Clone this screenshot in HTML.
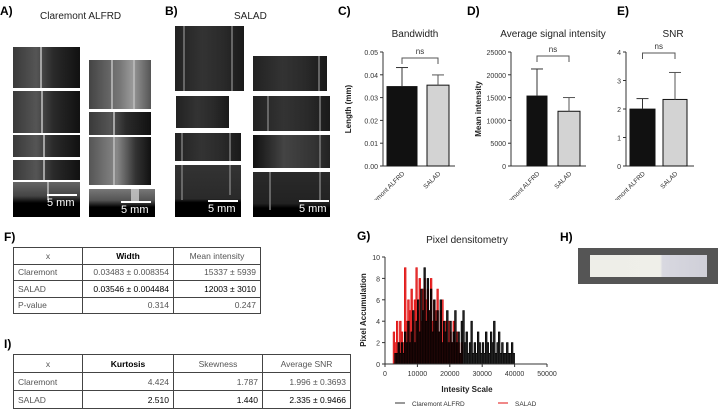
<!DOCTYPE html>
<html><head><meta charset="utf-8"><style>
body{margin:0;width:718px;height:407px;background:#fff;position:relative;overflow:hidden;font-family:"Liberation Sans",sans-serif;color:#222}
.abs{position:absolute}
.lbl{position:absolute;font-weight:bold;font-size:12px;color:#000}
.tile{position:absolute;background:linear-gradient(90deg,#3a3a3a 0%,#555 35%,#2a2a2a 60%,#111 100%);overflow:hidden}
.tile i{position:absolute;top:0;bottom:0;width:2px;background:#bbb;opacity:.8}
.tile.b{background:linear-gradient(90deg,#222 0%,#333 40%,#2a2a2a 70%,#1a1a1a 100%)}
.tile.b i{background:#777}
.sb{position:absolute;color:#fff;font-size:11px}
.sb b{display:block;height:2px;background:#fff;margin-bottom:1px}
table{position:absolute;border-collapse:collapse;font-size:8.5px;color:#555}
td{border:1px solid #444;padding:0 4px;text-align:right;height:15.5px}
td:first-child{text-align:left}
tr:first-child td{text-align:center}
</style></head><body>
<div class="lbl" style="left:0;top:4px">A)</div>
<div class="abs" style="left:40px;top:11px;font-size:10px">Claremont ALFRD</div>
<div class="lbl" style="left:165px;top:4px">B)</div>
<div class="abs" style="left:234px;top:11px;font-size:10px">SALAD</div>

<div>
<div class="tile" style="left:13px;top:47px;width:67px;height:41px"><i style="left:27px"></i></div>
<div class="tile" style="left:13px;top:91px;width:67px;height:42px"><i style="left:28px"></i></div>
<div class="tile" style="left:13px;top:135px;width:67px;height:22px"><i style="left:30px"></i></div>
<div class="tile" style="left:13px;top:160px;width:67px;height:20px"><i style="left:30px"></i></div>
<div class="tile" style="left:13px;top:182px;width:67px;height:35px;background:linear-gradient(180deg,#666 0%,#444 40%,#000 60%)"><i style="left:34px;height:18px"></i><div class="sb" style="left:34px;top:12px;width:30px"><b></b>5 mm</div></div>
<div class="tile" style="left:89px;top:60px;width:62px;height:49px;background:linear-gradient(90deg,#444,#777 50%,#999 70%,#555)"><i style="left:22px"></i><i style="left:44px"></i></div>
<div class="tile" style="left:89px;top:112px;width:62px;height:23px"><i style="left:24px"></i></div>
<div class="tile" style="left:89px;top:137px;width:62px;height:48px;background:linear-gradient(90deg,#555,#888 45%,#333 75%,#111)"><i style="left:24px"></i></div>
<div class="tile" style="left:89px;top:189px;width:66px;height:28px;background:linear-gradient(180deg,#777 0%,#555 40%,#000 65%)"><i style="left:42px;height:14px;width:8px;background:#ccc"></i><div class="sb" style="left:32px;top:12px;width:30px"><b></b>5 mm</div></div>
</div>
<div>
<div class="tile b" style="left:175px;top:26px;width:69px;height:65px"><i style="left:8px"></i><i style="left:56px"></i></div>
<div class="tile b" style="left:176px;top:96px;width:53px;height:32px"></div>
<div class="tile b" style="left:175px;top:133px;width:66px;height:28px"><i style="left:6px"></i><i style="left:54px"></i></div>
<div class="tile b" style="left:175px;top:165px;width:66px;height:52px;background:linear-gradient(180deg,#333 0%,#2a2a2a 65%,#000 72%)"><i style="left:6px;height:35px"></i><i style="left:54px;height:30px"></i><div class="sb" style="left:33px;top:35px;width:30px"><b></b>5 mm</div></div>
<div class="tile b" style="left:253px;top:56px;width:74px;height:35px"><i style="left:65px"></i></div>
<div class="tile b" style="left:253px;top:96px;width:77px;height:35px"><i style="left:14px"></i><i style="left:66px"></i></div>
<div class="tile b" style="left:253px;top:135px;width:77px;height:33px;background:linear-gradient(90deg,#111,#444 40%,#333 80%,#222)"><i style="left:66px"></i></div>
<div class="tile b" style="left:253px;top:172px;width:77px;height:45px;background:linear-gradient(180deg,#2a2a2a 0%,#222 70%,#000 80%)"><i style="left:16px;height:38px"></i><i style="left:66px;height:30px"></i><div class="sb" style="left:46px;top:28px;width:30px"><b></b>5 mm</div></div>
</div>

<div class="lbl" style="left:338px;top:4px">C)</div>
<div class="lbl" style="left:467px;top:4px">D)</div>
<div class="lbl" style="left:617px;top:4px">E)</div>
<svg id="bars" class="abs" style="left:0;top:0" width="718" height="200"></svg>

<div class="lbl" style="left:4px;top:230px">F)</div>
<table style="left:13px;top:247px;width:248px">
<tr><td style="width:60px">x</td><td style="width:82px;color:#000;font-weight:bold">Width</td><td>Mean intensity</td></tr>
<tr><td>Claremont</td><td>0.03483 ± 0.008354</td><td>15337 ± 5939</td></tr>
<tr><td>SALAD</td><td style="color:#000">0.03546 ± 0.004484</td><td style="color:#000">12003 ± 3010</td></tr>
<tr><td>P-value</td><td>0.314</td><td>0.247</td></tr>
</table>
<div class="lbl" style="left:4px;top:337px">I)</div>
<table style="left:13px;top:354px;width:338px">
<tr><td style="width:60px;height:17px">x</td><td style="width:82px;color:#000;font-weight:bold">Kurtosis</td><td style="width:80px">Skewness</td><td>Average SNR</td></tr>
<tr><td style="height:17px">Claremont</td><td>4.424</td><td>1.787</td><td>1.996 ± 0.3693</td></tr>
<tr><td style="height:17px">SALAD</td><td style="color:#000">2.510</td><td style="color:#000">1.440</td><td style="color:#000">2.335 ± 0.9466</td></tr>
</table>

<div class="lbl" style="left:357px;top:229px">G)</div>
<svg id="hist" class="abs" style="left:320px;top:200px" width="260" height="207"></svg>

<div class="lbl" style="left:560px;top:230px">H)</div>
<div class="abs" style="left:578px;top:248px;width:140px;height:36px;background:#555">
<div class="abs" style="left:12px;top:7px;width:117px;height:22px;background:linear-gradient(90deg,#eeeee8 0%,#efefe9 60%,#d8d8e0 62%,#cfcfd8 100%)"></div>
</div>

<script>
const NS="http://www.w3.org/2000/svg";
function mk(p,t,a,txt){const e=document.createElementNS(NS,t);for(const k in a)e.setAttribute(k,a[k]);if(txt!=null)e.textContent=txt;p.appendChild(e);return e;}
const barCats=["Claremont ALFRD","SALAD"];
const bwMeans=[0.03483,0.03546];
const bwErr=[0.008354,0.004484];
const bwTicks=["0.00","0.01","0.02","0.03","0.04","0.05"];
const miMeans=[15337,12003];
const miErr=[5939,3010];
const miTicks=["0","5000","10000","15000","20000","25000"];
const snrMeans=[1.996,2.335];
const snrErr=[0.3693,0.9466];
const snrTicks=["0","1","2","3","4"];
const svg=document.getElementById('bars');
function barChart(o){
  const y0=166,h=114,ax=o.ax,max=o.max;
  const Y=v=>y0-v/max*h;
  const g=mk(svg,'g',{});
  
  
  mk(g,'text',{x:o.tx,y:37,'font-size':10,'text-anchor':'middle',fill:'#222'},o.title);
  mk(g,'line',{x1:ax,y1:Y(max),x2:ax,y2:y0,stroke:'#333','stroke-width':1});
  mk(g,'line',{x1:ax,y1:y0,x2:ax+o.w,y2:y0,stroke:'#333','stroke-width':1});
  o.ticks.forEach((t,i)=>{const v=max*i/(o.ticks.length-1);
    mk(g,'line',{x1:ax-3,y1:Y(v),x2:ax,y2:Y(v),stroke:'#333'});
    mk(g,'text',{x:ax-5,y:Y(v)+3,'font-size':7,'text-anchor':'end',fill:'#333'},t);});
  mk(g,'text',{x:0,y:0,'font-size':8,'font-weight':'bold','text-anchor':'middle',fill:'#222',transform:`translate(${o.ylx},109) rotate(-90)`},o.ylab);
  const cx=[];
  o.means.forEach((m,i)=>{const x=o.bx[i],w=o.bw[i];cx.push(x+w/2);
    const r=mk(g,'rect',{x:x,y:Y(m),width:w,height:y0-Y(m),fill:i?'#d3d3d3':'#111',stroke:'#111','stroke-width':1});
    
    
    const c=i?'#555':'#333';
    mk(g,'line',{x1:x+w/2,y1:Y(m),x2:x+w/2,y2:Y(m+o.err[i]),stroke:c});
    mk(g,'line',{x1:x+w/2-6,y1:Y(m+o.err[i]),x2:x+w/2+6,y2:Y(m+o.err[i]),stroke:c});
    mk(g,'text',{x:0,y:0,'font-size':6.5,'text-anchor':'end',fill:'#333',transform:`translate(${x+w/2+3},${y0+8}) rotate(-45)`},barCats[i]);
  });
  const by=o.by;
  mk(g,'polyline',{points:`${cx[0]},${by+6} ${cx[0]},${by} ${cx[1]},${by} ${cx[1]},${by+6}`,fill:'none',stroke:'#555'});
  mk(g,'text',{x:(cx[0]+cx[1])/2,y:by-4,'font-size':8,'text-anchor':'middle',fill:'#333'},'ns');
}
barChart({name:'bandwidth-chart',title:'Bandwidth',tx:415,ax:383,w:72,max:0.05,means:bwMeans,err:bwErr,ticks:bwTicks,bx:[387,427],bw:[30,22],ylab:'Length (mm)',ylx:351,by:58});
barChart({name:'mean-intensity-chart',title:'Average signal intensity',tx:553,ax:511,w:75,max:25000,means:miMeans,err:miErr,ticks:miTicks,bx:[527,558],bw:[20,22],ylab:'Mean intensity',ylx:481,by:56});
barChart({name:'snr-chart',title:'SNR',tx:673,ax:626,w:68,max:4,means:snrMeans,err:snrErr,ticks:snrTicks,bx:[630,663],bw:[25,24],ylab:'',ylx:610,by:53});

// histogram
const binStart=2500, binWidth=500;
const claremontCounts=[0,1,1,2,1,2,1,3,2,4,2,3,5,2,4,6,3,7,5,9,4,8,5,7,3,6,4,5,3,6,2,4,3,5,2,4,2,3,5,2,3,1,4,5,2,3,1,2,4,1,2,1,3,2,1,2,1,3,2,1,3,2,4,1,2,3,1,2,1,1,2,1,1,2,1,0];
const saladCounts=[3,2,4,2,4,3,2,9,4,6,5,7,4,6,9,5,8,4,7,8,6,7,5,8,4,6,5,7,3,5,6,3,4,2,4,3,2,4,2,3,2,1,2,0];
const xTicks=["0","10000","20000","30000","40000","50000"];
const yTicks=["0","2","4","6","8","10"];
const hs=document.getElementById('hist');
const X=v=>65+v/50000*162, HY=v=>164-v/10*107;
mk(hs,'text',{x:147,y:43,'font-size':10,'text-anchor':'middle',fill:'#222'},'Pixel densitometry');
function series(arr,col,name){
  const g=mk(hs,'g',{});
  
  
  let pts=[];
  arr.forEach((c,i)=>{const a=binStart+i*binWidth;
    if(c>0)mk(g,'rect',{x:X(a),y:HY(c),width:X(a+binWidth)-X(a),height:164-HY(c),fill:col,opacity:0.85});
    pts.push(`${X(a)},${HY(c)}`,`${X(a+binWidth)},${HY(c)}`);
    mk(g,'line',{x1:X(a),y1:164,x2:X(a),y2:HY(c),stroke:col,'stroke-width':0.6});
  });
  mk(g,'polyline',{points:pts.join(' '),fill:'none',stroke:col,'stroke-width':0.6});
}
series(saladCounts,'#e01010','salad-series');
series(claremontCounts,'#000','claremont-series');
mk(hs,'line',{x1:65,y1:57,x2:65,y2:164,stroke:'#333'});
mk(hs,'line',{x1:65,y1:164,x2:227,y2:164,stroke:'#333'});
xTicks.forEach((t,i)=>{const v=i*10000;mk(hs,'line',{x1:X(v),y1:164,x2:X(v),y2:167,stroke:'#333'});
  mk(hs,'text',{x:X(v),y:176,'font-size':7,'text-anchor':'middle',fill:'#333'},t);});
yTicks.forEach((t,i)=>{const v=i*2;mk(hs,'line',{x1:62,y1:HY(v),x2:65,y2:HY(v),stroke:'#333'});
  mk(hs,'text',{x:60,y:HY(v)+3,'font-size':7,'text-anchor':'end',fill:'#333'},t);});
mk(hs,'text',{x:0,y:0,'font-size':8,'font-weight':'bold','text-anchor':'middle',fill:'#222',transform:'translate(46,110) rotate(-90)'},'Pixel Accumulation');
mk(hs,'text',{x:147,y:192,'font-size':8,'font-weight':'bold','text-anchor':'middle',fill:'#222'},'Intesity Scale');
mk(hs,'line',{x1:75,y1:203,x2:85,y2:203,stroke:'#333'});
mk(hs,'text',{x:92,y:206,'font-size':6.5,fill:'#333'},'Claremont ALFRD');
mk(hs,'line',{x1:178,y1:203,x2:188,y2:203,stroke:'#e01010'});
mk(hs,'text',{x:195,y:206,'font-size':6.5,fill:'#333'},'SALAD');
</script>
</body></html>
